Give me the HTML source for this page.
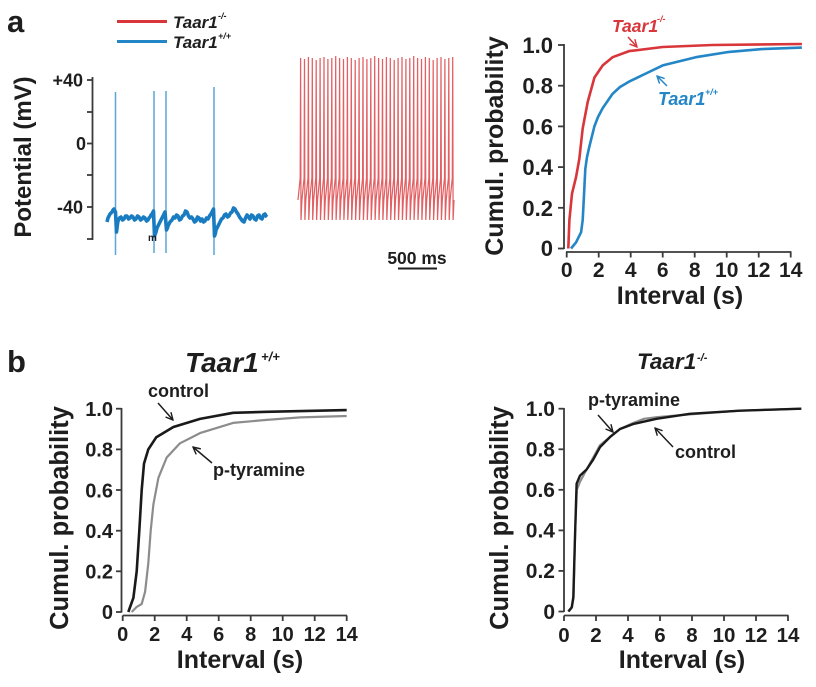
<!DOCTYPE html>
<html><head><meta charset="utf-8"><style>
html,body{margin:0;padding:0;background:#fff;}
svg{display:block;}
text{font-family:"Liberation Sans",Arial,sans-serif;font-weight:bold;fill:#1e1e1e;}
.it{font-style:italic;}
</style></head><body>
<svg width="816" height="687" viewBox="0 0 816 687" xmlns="http://www.w3.org/2000/svg">
<defs>
<marker id="ak" viewBox="0 0 10 10" refX="9" refY="5" markerWidth="6" markerHeight="6" orient="auto"><path d="M1,1 L9,5 L1,9" fill="none" stroke="#1e1e1e" stroke-width="1.6"/></marker>
<marker id="ar" viewBox="0 0 10 10" refX="9" refY="5" markerWidth="6" markerHeight="6" orient="auto"><path d="M1,1 L9,5 L1,9" fill="none" stroke="#d8363a" stroke-width="1.6"/></marker>
<marker id="ab" viewBox="0 0 10 10" refX="9" refY="5" markerWidth="6" markerHeight="6" orient="auto"><path d="M1,1 L9,5 L1,9" fill="none" stroke="#2386c6" stroke-width="1.6"/></marker>
</defs>

<!-- Panel labels -->
<text x="7" y="32" font-size="31">a</text>
<text x="7" y="372" font-size="31">b</text>

<!-- Legend -->
<line x1="117" y1="21.5" x2="167" y2="21.5" stroke="#d8363a" stroke-width="3"/>
<line x1="117" y1="41.5" x2="167" y2="41.5" stroke="#2386c6" stroke-width="3"/>
<text x="173" y="28" font-size="17" class="it">Taar1</text>
<text x="218" y="19" font-size="9" class="it">-/-</text>
<text x="173" y="48" font-size="17" class="it">Taar1</text>
<text x="218" y="39" font-size="9" class="it">+/+</text>

<!-- Top-left axis -->
<text transform="translate(31,157) rotate(-90)" text-anchor="middle" font-size="24">Potential (mV)</text>
<g stroke="#3a3a3a" stroke-width="1.8" fill="none">
<line x1="92.5" y1="77" x2="92.5" y2="240"/>
<line x1="87" y1="80" x2="92.5" y2="80"/>
<line x1="87" y1="112" x2="92.5" y2="112"/>
<line x1="87" y1="143.5" x2="92.5" y2="143.5"/>
<line x1="87" y1="175" x2="92.5" y2="175"/>
<line x1="87" y1="207" x2="92.5" y2="207"/>
<line x1="87" y1="239" x2="92.5" y2="239"/>
</g>
<text x="83" y="86.5" font-size="18" text-anchor="end">+40</text>
<text x="86" y="150" font-size="18" text-anchor="end">0</text>
<text x="83" y="213.5" font-size="18" text-anchor="end">-40</text>

<!-- Blue trace -->
<g stroke="#5aa6d8" stroke-width="1.5">
<line x1="115.5" y1="92" x2="115.5" y2="255"/>
<line x1="154" y1="91" x2="154" y2="253"/>
<line x1="166" y1="91" x2="166" y2="253"/>
<line x1="214" y1="87" x2="214" y2="255"/>
</g>
<polyline fill="none" stroke="#1a7cc0" stroke-width="3.6" stroke-linejoin="round" points="107,222 108,218 109,216 110,214 111,213 112,212 113,210 114,209 115.5,212 116.5,232 117.5,224 118,221 119.5,218 121,217 122.5,220 124,219 125.5,216 127,216 128.5,219 130,218 131.5,216 133,217 134.5,220 136,219 137.5,216 139,217 140.5,220 142,219 143.5,217 145,218 146.5,221 148,220 149,218 150,217 151,215 152,214 153.5,211 154.5,236 156,232 157,228 158,226 159,224 160,222 161.5,219 163,216 164,214 165,212 166.5,230 167.5,228 168,226 169,224 170,222 171,221 172,220 173.5,217 175,218 176.5,215 178,216 179.5,220 181,219 182.5,216 184,215 185.5,211 187,212 188.5,216 190,218 191.5,217 193,219 194.5,222 196,221 197.5,217 199,218 200.5,221 202,219 203.5,222 205,221 206.5,218 208,219 209.5,216 211,214 212,212 213.5,209 214.5,236 215.5,233 216,230 217,228 218,226 219,224 220,222 221.5,219 223,218 224.5,215 226,214 227.5,217 229,216 230.5,213 232,212 233.5,208 235,209 236.5,212 238,214 239.5,217 241,219 242.5,221 244,222 245.5,218 247,215 248.5,217 250,219 251.5,215 253,216 254.5,219 256,220 257.5,216 259,215 260.5,218 262,219 263.5,215 265,214 266,216 267,217"/>
<text x="148" y="241" font-size="10">m</text>

<!-- Red trace -->
<path fill="none" stroke="#df4f52" stroke-width="1.25" stroke-opacity="0.9" d="M298,200 l2.2,-22 .4,-120 .4,162 .9,-20 2.2,-22 .4,-119 .4,161 .9,-20 2.2,-22 .4,-121 .4,163 .9,-20 2.2,-22 .4,-120 .4,162 .9,-20 2.2,-22 .4,-118 .4,160 .9,-20 2.2,-22 .4,-120 .4,162 .9,-20 2.2,-22 .4,-121 .4,163 .9,-20 2.2,-22 .4,-119 .4,161 .9,-20 2.2,-22 .4,-120 .4,162 .9,-20 2.2,-22 .4,-122 .4,164 .9,-20 2.2,-22 .4,-120 .4,162 .9,-20 2.2,-22 .4,-119 .4,161 .9,-20 2.2,-22 .4,-121 .4,163 .9,-20 2.2,-22 .4,-120 .4,162 .9,-20 2.2,-22 .4,-118 .4,160 .9,-20 2.2,-22 .4,-120 .4,162 .9,-20 2.2,-22 .4,-121 .4,163 .9,-20 2.2,-22 .4,-119 .4,161 .9,-20 2.2,-22 .4,-120 .4,162 .9,-20 2.2,-22 .4,-122 .4,164 .9,-20 2.2,-22 .4,-120 .4,162 .9,-20 2.2,-22 .4,-119 .4,161 .9,-20 2.2,-22 .4,-121 .4,163 .9,-20 2.2,-22 .4,-120 .4,162 .9,-20 2.2,-22 .4,-118 .4,160 .9,-20 2.2,-22 .4,-120 .4,162 .9,-20 2.2,-22 .4,-121 .4,163 .9,-20 2.2,-22 .4,-119 .4,161 .9,-20 2.2,-22 .4,-120 .4,162 .9,-20 2.2,-22 .4,-122 .4,164 .9,-20 2.2,-22 .4,-120 .4,162 .9,-20 2.2,-22 .4,-119 .4,161 .9,-20 2.2,-22 .4,-121 .4,163 .9,-20 2.2,-22 .4,-120 .4,162 .9,-20 2.2,-22 .4,-118 .4,160 .9,-20 2.2,-22 .4,-120 .4,162 .9,-20 2.2,-22 .4,-121 .4,163 .9,-20 2.2,-22 .4,-119 .4,161 .9,-20 2.2,-22 .4,-120 .4,162 .9,-20 2.2,-22 .4,-121 .4,163 .9,-20"/>

<!-- Scale bar -->
<text x="417" y="264" font-size="17.5" text-anchor="middle">500 ms</text>
<line x1="398" y1="268.5" x2="437" y2="268.5" stroke="#1e1e1e" stroke-width="2"/>

<!-- ===== Top-right CDF ===== -->
<text transform="translate(503,146) rotate(-90)" text-anchor="middle" font-size="25">Cumul. probability</text>
<g stroke="#3a3a3a" stroke-width="1.8" fill="none">
<line x1="564" y1="44" x2="564" y2="249"/>
<line x1="558" y1="45" x2="564" y2="45"/>
<line x1="558" y1="85.7" x2="564" y2="85.7"/>
<line x1="558" y1="126.4" x2="564" y2="126.4"/>
<line x1="558" y1="167.1" x2="564" y2="167.1"/>
<line x1="558" y1="207.8" x2="564" y2="207.8"/>
<line x1="558" y1="248.5" x2="564" y2="248.5"/>
<line x1="566" y1="252" x2="791.5" y2="252"/>
<line x1="566.7" y1="252" x2="566.7" y2="257.5"/>
<line x1="598.7" y1="252" x2="598.7" y2="257.5"/>
<line x1="630.7" y1="252" x2="630.7" y2="257.5"/>
<line x1="662.7" y1="252" x2="662.7" y2="257.5"/>
<line x1="694.7" y1="252" x2="694.7" y2="257.5"/>
<line x1="726.7" y1="252" x2="726.7" y2="257.5"/>
<line x1="758.7" y1="252" x2="758.7" y2="257.5"/>
<line x1="790.7" y1="252" x2="790.7" y2="257.5"/>
</g>
<g font-size="22" text-anchor="end">
<text x="553" y="53">1.0</text>
<text x="553" y="93.7">0.8</text>
<text x="553" y="134.4">0.6</text>
<text x="553" y="175.1">0.4</text>
<text x="553" y="215.8">0.2</text>
<text x="553" y="256">0</text>
</g>
<g font-size="21" text-anchor="middle">
<text x="566.7" y="277">0</text>
<text x="598.7" y="277">2</text>
<text x="630.7" y="277">4</text>
<text x="662.7" y="277">6</text>
<text x="694.7" y="277">8</text>
<text x="726.7" y="277">10</text>
<text x="758.7" y="277">12</text>
<text x="790.7" y="277">14</text>
</g>
<text x="680" y="304" font-size="25" text-anchor="middle">Interval (s)</text>
<polyline fill="none" stroke="#2386c6" stroke-width="2.6" stroke-linejoin="round" points="571,248.5 576,242.4 581.1,232.2 582.7,220 584,195 585.3,169.1 587,157 589.3,146.8 594.4,126.4 598,117 602.7,108.1 612.6,93.8 620,87 629.1,81.6 645.9,73.5 662.7,65.4 695.8,57.2 729.1,51.9 761.9,49.1 801.9,47.6"/>
<polyline fill="none" stroke="#d8363a" stroke-width="2.6" stroke-linejoin="round" points="568.3,248.5 569.4,220 572,193.6 576,177.3 579.3,159 582.7,128.4 587.7,102 594.4,77.6 602.7,65.4 612.6,57.2 629.1,51.1 662.7,47 712.3,45 801.9,44"/>
<text x="612" y="32" font-size="17.5" class="it" style="fill:#d8363a">Taar1</text>
<text x="657" y="22" font-size="9" class="it" style="fill:#d8363a">-/-</text>
<line x1="628" y1="37" x2="637" y2="47" stroke="#d8363a" stroke-width="1.5" marker-end="url(#ar)"/>
<text x="658" y="105" font-size="18" class="it" style="fill:#2386c6">Taar1</text>
<text x="705" y="95" font-size="9" class="it" style="fill:#2386c6">+/+</text>
<line x1="667" y1="86" x2="657" y2="76" stroke="#2386c6" stroke-width="1.5" marker-end="url(#ab)"/>

<!-- ===== Bottom-left CDF ===== -->
<text x="185" y="372" font-size="28" class="it">Taar1</text>
<text x="261" y="361" font-size="13" class="it">+/+</text>
<text transform="translate(68,518) rotate(-90)" text-anchor="middle" font-size="25.5">Cumul. probability</text>
<g stroke="#3a3a3a" stroke-width="1.8" fill="none">
<line x1="121.5" y1="408" x2="121.5" y2="612.5"/>
<line x1="116" y1="408.7" x2="121.5" y2="408.7"/>
<line x1="116" y1="449.4" x2="121.5" y2="449.4"/>
<line x1="116" y1="490" x2="121.5" y2="490"/>
<line x1="116" y1="530.7" x2="121.5" y2="530.7"/>
<line x1="116" y1="571.3" x2="121.5" y2="571.3"/>
<line x1="116" y1="612" x2="121.5" y2="612"/>
<line x1="122.7" y1="615.5" x2="347" y2="615.5"/>
<line x1="122.7" y1="615.5" x2="122.7" y2="621"/>
<line x1="154.7" y1="615.5" x2="154.7" y2="621"/>
<line x1="186.7" y1="615.5" x2="186.7" y2="621"/>
<line x1="218.7" y1="615.5" x2="218.7" y2="621"/>
<line x1="250.7" y1="615.5" x2="250.7" y2="621"/>
<line x1="282.7" y1="615.5" x2="282.7" y2="621"/>
<line x1="314.7" y1="615.5" x2="314.7" y2="621"/>
<line x1="346.7" y1="615.5" x2="346.7" y2="621"/>
</g>
<g font-size="20" text-anchor="end">
<text x="113" y="416">1.0</text>
<text x="113" y="456.7">0.8</text>
<text x="113" y="497.3">0.6</text>
<text x="113" y="538">0.4</text>
<text x="113" y="578.6">0.2</text>
<text x="113" y="619">0</text>
</g>
<g font-size="20" text-anchor="middle">
<text x="122.7" y="641">0</text>
<text x="154.7" y="641">2</text>
<text x="186.7" y="641">4</text>
<text x="218.7" y="641">6</text>
<text x="250.7" y="641">8</text>
<text x="282.7" y="641">10</text>
<text x="314.7" y="641">12</text>
<text x="346.7" y="641">14</text>
</g>
<text x="240" y="668" font-size="25" text-anchor="middle">Interval (s)</text>
<polyline fill="none" stroke="#8c8c8c" stroke-width="2.2" stroke-linejoin="round" points="131.7,612 136.7,606.9 141.7,603.9 145.1,591.7 148.3,563.2 150.7,530.7 153.4,504.3 158.4,477.8 166.7,457.5 180,443.3 200,433.1 233.1,422.9 266.7,419.9 300.3,417.4 346.7,416"/>
<polyline fill="none" stroke="#1a1a1a" stroke-width="2.6" stroke-linejoin="round" points="128.3,612 133.4,597.8 136.7,571.3 139.3,530.7 141.7,490 144,463.6 148.3,449.4 156.3,437.2 173.4,427 200,418.9 233.1,412.8 266.7,411.8 346.7,410.1"/>
<text x="148" y="397" font-size="18">control</text>
<line x1="158" y1="403" x2="173" y2="420" stroke="#1e1e1e" stroke-width="1.5" marker-end="url(#ak)"/>
<text x="213" y="476" font-size="18">p-tyramine</text>
<line x1="212" y1="463" x2="193" y2="447" stroke="#1e1e1e" stroke-width="1.5" marker-end="url(#ak)"/>

<!-- ===== Bottom-right CDF ===== -->
<text x="637" y="369" font-size="22.5" class="it">Taar1</text>
<text x="697" y="361" font-size="11" class="it">-/-</text>
<text transform="translate(508,518) rotate(-90)" text-anchor="middle" font-size="25.5">Cumul. probability</text>
<g stroke="#3a3a3a" stroke-width="1.8" fill="none">
<line x1="564" y1="408" x2="564" y2="612"/>
<line x1="558.5" y1="408.7" x2="564" y2="408.7"/>
<line x1="558.5" y1="449.3" x2="564" y2="449.3"/>
<line x1="558.5" y1="489.8" x2="564" y2="489.8"/>
<line x1="558.5" y1="530.4" x2="564" y2="530.4"/>
<line x1="558.5" y1="570.9" x2="564" y2="570.9"/>
<line x1="558.5" y1="611.5" x2="564" y2="611.5"/>
<line x1="564" y1="615.5" x2="788.5" y2="615.5"/>
<line x1="564" y1="615.5" x2="564" y2="621"/>
<line x1="596" y1="615.5" x2="596" y2="621"/>
<line x1="628" y1="615.5" x2="628" y2="621"/>
<line x1="660" y1="615.5" x2="660" y2="621"/>
<line x1="692" y1="615.5" x2="692" y2="621"/>
<line x1="724" y1="615.5" x2="724" y2="621"/>
<line x1="756" y1="615.5" x2="756" y2="621"/>
<line x1="788" y1="615.5" x2="788" y2="621"/>
</g>
<g font-size="21" text-anchor="end">
<text x="555" y="416">1.0</text>
<text x="555" y="456.6">0.8</text>
<text x="555" y="497.1">0.6</text>
<text x="555" y="537.7">0.4</text>
<text x="555" y="578.2">0.2</text>
<text x="555" y="619">0</text>
</g>
<g font-size="20.5" text-anchor="middle">
<text x="564" y="642">0</text>
<text x="596" y="642">2</text>
<text x="628" y="642">4</text>
<text x="660" y="642">6</text>
<text x="692" y="642">8</text>
<text x="724" y="642">10</text>
<text x="756" y="642">12</text>
<text x="788" y="642">14</text>
</g>
<text x="682" y="668" font-size="25" text-anchor="middle">Interval (s)</text>
<polyline fill="none" stroke="#8c8c8c" stroke-width="2.2" stroke-linejoin="round" points="568.8,611.5 572,607.4 573.6,597.3 575.2,530.4 576.8,489.8 580,481.7 586.6,469.5 593.3,457.4 600,445.2 609.9,437.1 620,429 633.3,422.9 644,418.8 656.5,417.2 689.8,414.4 739.7,410.7 801.3,408.7"/>
<polyline fill="none" stroke="#1a1a1a" stroke-width="2.4" stroke-linejoin="round" points="568.3,611.5 571.7,607.4 573.3,597.3 575,536.5 576.6,483.7 580,475.6 586.6,469.5 593.3,459.4 600,447.2 609.9,437.1 620,429 633.3,424 656.5,418.8 689.8,413.8 739.7,410.7 801.3,408.7"/>
<text x="588" y="406" font-size="18">p-tyramine</text>
<line x1="598" y1="415" x2="613" y2="432" stroke="#1e1e1e" stroke-width="1.5" marker-end="url(#ak)"/>
<text x="675" y="458" font-size="18">control</text>
<line x1="673" y1="447" x2="655" y2="428" stroke="#1e1e1e" stroke-width="1.5" marker-end="url(#ak)"/>
</svg>
</body></html>
